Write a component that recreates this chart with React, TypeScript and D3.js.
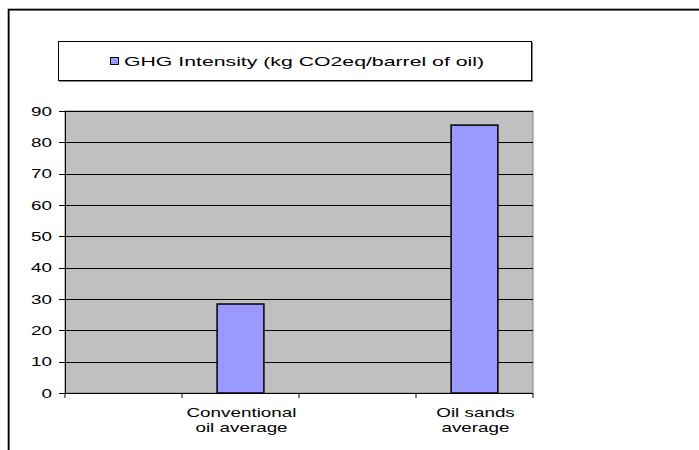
import React from "react";
import * as d3 from "d3";

const categories = ["", "Conventional\noil average", "", "Oil sands\naverage"];
const values = [null, 28.4, null, 85.5];
const yTicks = [0, 10, 20, 30, 40, 50, 60, 70, 80, 90];
const seriesName = "GHG Intensity (kg CO2eq/barrel of oil)";

const W = 699;
const H = 450;
const plot = { left: 65, right: 533, top: 111, bottom: 393 };
const SX = 1.45;
const FONT = "'Liberation Sans', Arial, sans-serif";

export default function App() {
  const x = d3
    .scaleBand<number>()
    .domain(categories.map((_, i) => i))
    .range([plot.left, plot.right])
    .paddingInner(0.6)
    .paddingOuter(0.3);
  const y = d3.scaleLinear().domain([0, 90]).range([plot.bottom, plot.top]);
  const step = x.step();
  const boundaries = d3.range(categories.length + 1).map((i) => plot.left + i * step);

  return (
    <svg
      width={W}
      height={H}
      style={{ position: "absolute", left: 0, top: 0, background: "#fff" }}
      fontFamily={FONT}
    >
      {/* outer frame (cropped) */}
      <rect x={9.5} y={10.5} width={W + 20} height={H + 20} fill="none" stroke="#999" strokeWidth={1} />
      <rect x={8.5} y={9.5} width={W + 20} height={H + 20} fill="none" stroke="#000" strokeWidth={1.6} />

      {/* legend */}
      <rect x={59.5} y={42.5} width={473} height={39} fill="none" stroke="#888" strokeWidth={1} />
      <rect x={58.5} y={41.5} width={473} height={39} fill="#fff" stroke="#000" strokeWidth={1} />
      <rect x={110.5} y={57.5} width={8} height={7} fill="#9999FF" stroke="#000" strokeWidth={1} />
      <text x={124} y={66} fontSize={13} textLength={360} lengthAdjust="spacingAndGlyphs" fill="#000">
        {seriesName}
      </text>

      {/* plot area */}
      <rect
        x={plot.left}
        y={plot.top}
        width={plot.right - plot.left}
        height={plot.bottom - plot.top}
        fill="#C0C0C0"
        stroke="#808080"
        strokeWidth={1}
      />
      {yTicks
        .filter((t) => t > 0)
        .map((t) => (
          <line
            key={"g" + t}
            x1={plot.left}
            x2={plot.right}
            y1={Math.round(y(t)) + 0.5}
            y2={Math.round(y(t)) + 0.5}
            stroke="#000"
            strokeWidth={1}
          />
        ))}

      {/* bars */}
      {values.map((v, i) =>
        v == null ? null : (
          <rect
            key={"b" + i}
            x={x(i)!}
            y={y(v)}
            width={x.bandwidth()}
            height={y(0) - y(v)}
            fill="#9999FF"
            stroke="#000"
            strokeWidth={1.5}
          />
        )
      )}

      {/* y axis */}
      <line x1={plot.left + 0.5} x2={plot.left + 0.5} y1={plot.top} y2={plot.bottom} stroke="#000" strokeWidth={1} />
      {yTicks.map((t) => (
        <g key={"yt" + t}>
          <line
            x1={plot.left - 6}
            x2={plot.left}
            y1={Math.round(y(t)) + 0.5}
            y2={Math.round(y(t)) + 0.5}
            stroke="#000"
          />
          <text
            transform={`translate(${plot.left - 13},${y(t) + 4.5}) scale(${SX},1)`}
            textAnchor="end"
            fontSize={13}
            fill="#000"
          >
            {t}
          </text>
        </g>
      ))}

      {/* x axis */}
      <line x1={plot.left} x2={plot.right} y1={plot.bottom + 0.5} y2={plot.bottom + 0.5} stroke="#000" strokeWidth={1} />
      {boundaries.map((bx, i) => (
        <line key={"xt" + i} x1={bx} x2={bx} y1={plot.bottom} y2={plot.bottom + 5} stroke="#000" />
      ))}
      {categories.map((c, i) =>
        c === ""
          ? null
          : c.split("\n").map((line, j) => (
              <text
                key={"xl" + i + "-" + j}
                transform={`translate(${x(i)! + x.bandwidth() / 2 + 1},${417 + j * 15}) scale(${SX},1)`}
                textAnchor="middle"
                fontSize={13}
                fill="#000"
              >
                {line}
              </text>
            ))
      )}
    </svg>
  );
}
